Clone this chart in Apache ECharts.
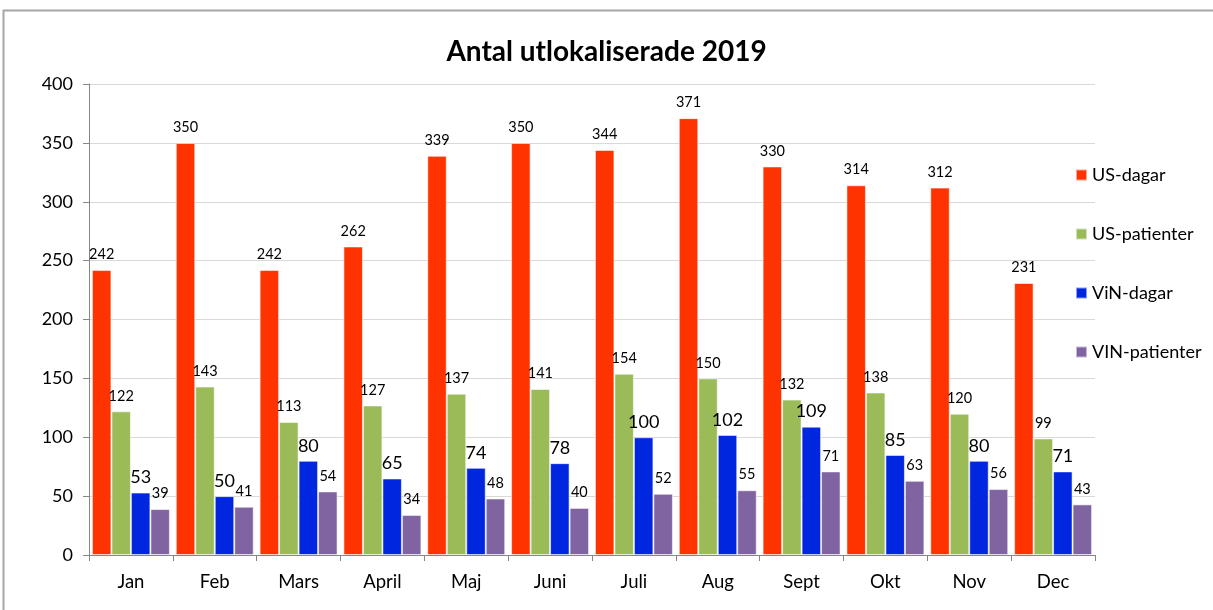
<!DOCTYPE html>
<html><head><meta charset="utf-8">
<script src="https://cdn.jsdelivr.net/npm/echarts@6/dist/echarts.min.js"></script>
<style>html,body{margin:0;padding:0;background:#fff}#c{width:1213px;height:610px}</style>
</head><body><div id="c"></div>
<script>
const categories = ['Jan','Feb','Mars','April','Maj','Juni','Juli','Aug','Sept','Okt','Nov','Dec'];
const usDagar = [242,350,242,262,339,350,344,371,330,314,312,231];
const usPatienter = [122,143,113,127,137,141,154,150,132,138,120,99];
const vinDagar = [53,50,80,65,74,78,100,102,109,85,80,71];
const vinPatienter = [39,41,54,34,48,40,52,55,71,63,56,43];
const seriesNames = ['US-dagar','US-patienter','ViN-dagar','VIN-patienter'];
const colors = ['#FF3300','#9BBB59','#0026E0','#8064A2'];
const labelSizes = [14.5,14.5,18,14.5];
const FONT = 'Lato, "Open Sans", sans-serif';

const chart = echarts.init(document.getElementById('c'));
const datas = [usDagar, usPatienter, vinDagar, vinPatienter];
chart.setOption({
  animation:false,
  textStyle:{fontFamily:FONT},
  graphic:[{type:'rect',shape:{x:3.5,y:10.5,width:1230,height:640},style:{fill:'none',stroke:'#a6a6a6',lineWidth:2},silent:true}],
  title:{text:'Antal utlokaliserade 2019',left:'center',top:33,textStyle:{fontFamily:FONT,fontSize:28,fontWeight:'bold',color:'#000'}},
  legend:{orient:'vertical',left:1070,top:161,itemGap:41,itemWidth:11,itemHeight:11,icon:'rect',
    textStyle:{fontFamily:FONT,fontSize:18,color:'#000'},data:seriesNames},
  grid:{left:89,right:118,top:84,bottom:55},
  xAxis:{type:'category',data:categories,
    axisLine:{lineStyle:{color:'#868686',width:1}},
    axisTick:{show:true,length:6,lineStyle:{color:'#868686'}},
    axisLabel:{fontFamily:FONT,fontSize:18.5,color:'#000',margin:18}},
  yAxis:{type:'value',min:0,max:400,interval:50,
    axisLine:{show:true,lineStyle:{color:'#868686'}},
    axisTick:{show:true,length:6,lineStyle:{color:'#868686'}},
    splitLine:{lineStyle:{color:'#d9d9d9'}},
    axisLabel:{fontFamily:FONT,fontSize:18,color:'#000',margin:16}},
  series: datas.map((d,i)=>({
    name:seriesNames[i],type:'bar',data:d,
    barGap:'0%',barCategoryGap:'7%',
    itemStyle:{color:colors[i],borderColor:'rgba(255,255,255,0.55)',borderWidth:1},
    label:{show:true,position:'top',distance:i===2?6:8,fontFamily:FONT,fontSize:labelSizes[i],color:'#000'}
  }))
});
</script></body></html>
